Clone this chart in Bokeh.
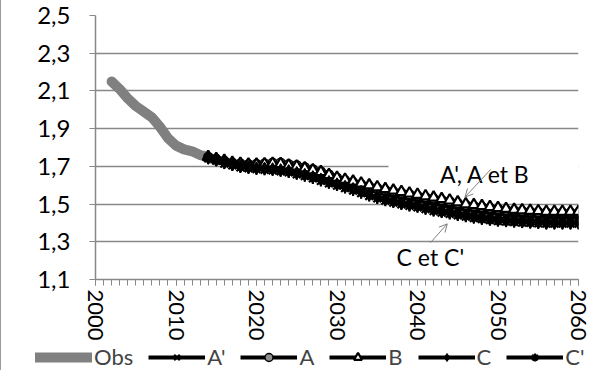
from bokeh.plotting import figure
from bokeh.layouts import column
from bokeh.models import (Legend, LegendItem, FixedTicker, CustomJSTickFormatter,
                          Label, Arrow, OpenHead, BoxAnnotation, Range1d)
from bokeh.embed import file_html
from bokeh.resources import INLINE

# ---------------- data ----------------
obs_years = [2002, 2003, 2004, 2005, 2006, 2007, 2008, 2009, 2010, 2011, 2012, 2013, 2014, 2015]
obs_values = [2.15, 2.11, 2.06, 2.02, 1.99, 1.96, 1.91, 1.85, 1.81, 1.79, 1.78, 1.76, 1.75, 1.73]

proj_years = list(range(2014, 2061))
a_prime = [1.748, 1.738, 1.727, 1.717, 1.711, 1.708, 1.708, 1.710, 1.713, 1.712,
           1.705, 1.699, 1.689, 1.678, 1.655, 1.640, 1.624, 1.611, 1.599, 1.587,
           1.575, 1.563, 1.552, 1.543, 1.535, 1.527, 1.520, 1.511, 1.502, 1.494,
           1.487, 1.478, 1.470, 1.463, 1.457, 1.452, 1.447, 1.443, 1.440, 1.437,
           1.435, 1.433, 1.431, 1.430, 1.430, 1.430, 1.430]
a_vals = [1.750, 1.740, 1.730, 1.720, 1.715, 1.712, 1.713, 1.716, 1.720, 1.720,
          1.712, 1.706, 1.696, 1.685, 1.673, 1.657, 1.640, 1.627, 1.616, 1.605,
          1.595, 1.585, 1.575, 1.567, 1.560, 1.552, 1.545, 1.537, 1.530, 1.522,
          1.515, 1.505, 1.496, 1.490, 1.485, 1.480, 1.475, 1.470, 1.466, 1.463,
          1.460, 1.458, 1.456, 1.455, 1.455, 1.455, 1.455]
b_vals = [1.750, 1.740, 1.730, 1.720, 1.715, 1.710, 1.710, 1.712, 1.715, 1.713,
          1.705, 1.700, 1.690, 1.680, 1.670, 1.655, 1.640, 1.630, 1.620, 1.610,
          1.600, 1.590, 1.580, 1.572, 1.565, 1.557, 1.550, 1.542, 1.535, 1.527,
          1.520, 1.510, 1.500, 1.495, 1.490, 1.485, 1.480, 1.475, 1.470, 1.468,
          1.465, 1.463, 1.460, 1.460, 1.460, 1.460, 1.460]
c_vals = [1.745, 1.735, 1.720, 1.710, 1.700, 1.695, 1.690, 1.688, 1.685, 1.680,
          1.675, 1.665, 1.655, 1.643, 1.630, 1.617, 1.605, 1.592, 1.580, 1.565,
          1.550, 1.537, 1.525, 1.515, 1.505, 1.497, 1.490, 1.480, 1.470, 1.462,
          1.455, 1.447, 1.440, 1.432, 1.425, 1.420, 1.415, 1.412, 1.410, 1.407,
          1.405, 1.403, 1.400, 1.400, 1.400, 1.400, 1.400]
c_prime = [1.742, 1.730, 1.715, 1.705, 1.695, 1.690, 1.685, 1.682, 1.679, 1.674,
           1.668, 1.658, 1.648, 1.636, 1.623, 1.610, 1.598, 1.585, 1.572, 1.558,
           1.543, 1.530, 1.518, 1.508, 1.498, 1.490, 1.483, 1.473, 1.463, 1.455,
           1.448, 1.440, 1.433, 1.426, 1.420, 1.415, 1.410, 1.407, 1.405, 1.402,
           1.400, 1.398, 1.396, 1.396, 1.396, 1.396, 1.396]

y_ticks = [1.1, 1.3, 1.5, 1.7, 1.9, 2.1, 2.3, 2.5]
x_ticks = [2000, 2010, 2020, 2030, 2040, 2050, 2060]

FONT = "Lato"
GRID = "#888888"

p = figure(frame_width=483, frame_height=264,
           x_range=Range1d(2000, 2060), y_range=Range1d(1.1, 2.5),
           output_backend="svg", toolbar_location=None,
           min_border_left=94, min_border_right=14, min_border_top=15, min_border_bottom=64)
p.outline_line_color = None
p.background_fill_color = "white"
p.border_fill_color = "white"

p.xgrid.grid_line_color = None
p.ygrid.ticker = FixedTicker(ticks=y_ticks)
p.ygrid.grid_line_color = GRID
p.ygrid.grid_line_width = 1.5

xa = p.xaxis[0]
xa.ticker = FixedTicker(ticks=x_ticks, minor_ticks=list(range(2000, 2061)))
xa.axis_line_color = GRID
xa.axis_line_width = 1.5
xa.major_tick_line_color = GRID
xa.minor_tick_line_color = GRID
xa.major_tick_out = 6
xa.major_tick_in = 0
xa.minor_tick_out = 6
xa.minor_tick_in = 0
xa.major_label_orientation = "vertical"
xa.major_label_standoff = 4
xa.major_label_text_font = FONT
xa.major_label_text_font_size = "22px"
xa.major_label_text_color = "black"

ya = p.yaxis[0]
ya.ticker = FixedTicker(ticks=y_ticks)
ya.formatter = CustomJSTickFormatter(code="return tick.toFixed(1).replace('.', ',');")
ya.axis_line_color = GRID
ya.axis_line_width = 1.5
ya.major_tick_line_color = GRID
ya.major_tick_out = 6
ya.major_tick_in = 0
ya.minor_tick_line_color = None
ya.major_label_standoff = 19
ya.major_label_text_font = FONT
ya.major_label_text_font_size = "24px"
ya.major_label_text_color = "black"

# white text box that hides part of the 1.7 gridline
p.add_layout(BoxAnnotation(left=2036.4, right=2060, bottom=1.62, top=1.74,
                           fill_color="white", fill_alpha=1, line_color=None, level="underlay"))

obs_style = dict(line_color="#808080", line_width=10, line_cap="round", line_join="round")
p.line(obs_years, obs_values, **obs_style)

series = [
    ("A'", a_prime, dict(marker="x", size=10, line_color="black", line_width=2.2)),
    ("A", a_vals, dict(marker="circle", size=9, fill_color="#909090", line_color="black", line_width=1.4)),
    ("B", b_vals, dict(marker="triangle", size=11, fill_color="white", line_color="black", line_width=2.2)),
    ("C", c_vals, dict(marker="diamond", size=13, fill_color="black", line_color="black")),
    ("C'", c_prime, dict(marker="asterisk", size=11, line_color="black", line_width=2.2)),
]
for name, vals, mk in series:
    p.line(proj_years, vals, line_color="black", line_width=4)
    p.scatter(proj_years, vals, **mk)

p.add_layout(Label(x=2042.8, y=1.658, text="A', A et B", text_font=FONT, text_font_size="23px",
                   text_baseline="middle", text_color="black"))
p.add_layout(Label(x=2037.4, y=1.221, text="C et C'", text_font=FONT, text_font_size="23px",
                   text_baseline="middle", text_color="black"))
p.add_layout(Arrow(x_start=2049.1, y_start=1.684, x_end=2045.9, y_end=1.537,
                   line_color="#808080", line_width=1,
                   end=OpenHead(size=8, line_color="#808080", line_width=1)))
p.add_layout(Arrow(x_start=2041.6, y_start=1.295, x_end=2043.7, y_end=1.395,
                   line_color="#808080", line_width=1,
                   end=OpenHead(size=8, line_color="#808080", line_width=1)))

# ---------------- legend strip (same series drawn off-range, only the legend shows) ----------------
lf = figure(frame_width=592, frame_height=27, x_range=Range1d(0, 1), y_range=Range1d(0, 1),
            x_axis_location=None, y_axis_location=None,
            output_backend="svg", toolbar_location=None,
            min_border_left=0, min_border_right=0, min_border_top=0, min_border_bottom=0)
lf.grid.visible = False
lf.outline_line_color = None
lf.background_fill_color = "white"
lf.border_fill_color = "white"

items = [LegendItem(label="Obs", renderers=[lf.line(obs_years, obs_values, **obs_style)])]
for name, vals, mk in series:
    lr = lf.line(proj_years, vals, line_color="black", line_width=4)
    sr = lf.scatter(proj_years, vals, **mk)
    items.append(LegendItem(label=name, renderers=[lr, sr]))

legend = Legend(items=items, orientation="horizontal", location=(34, 0),
                glyph_width=57, glyph_height=20, label_standoff=2, spacing=15,
                padding=0, margin=0, border_line_color=None, background_fill_alpha=0,
                label_text_font=FONT, label_text_font_size="22px", label_height=20,
                label_width=0)
lf.add_layout(legend)

layout = column(p, lf, spacing=0)
layout.styles = {"border-left": "1px solid #9a9a9a"}

open("out.html", "w").write(file_html(layout, INLINE))
